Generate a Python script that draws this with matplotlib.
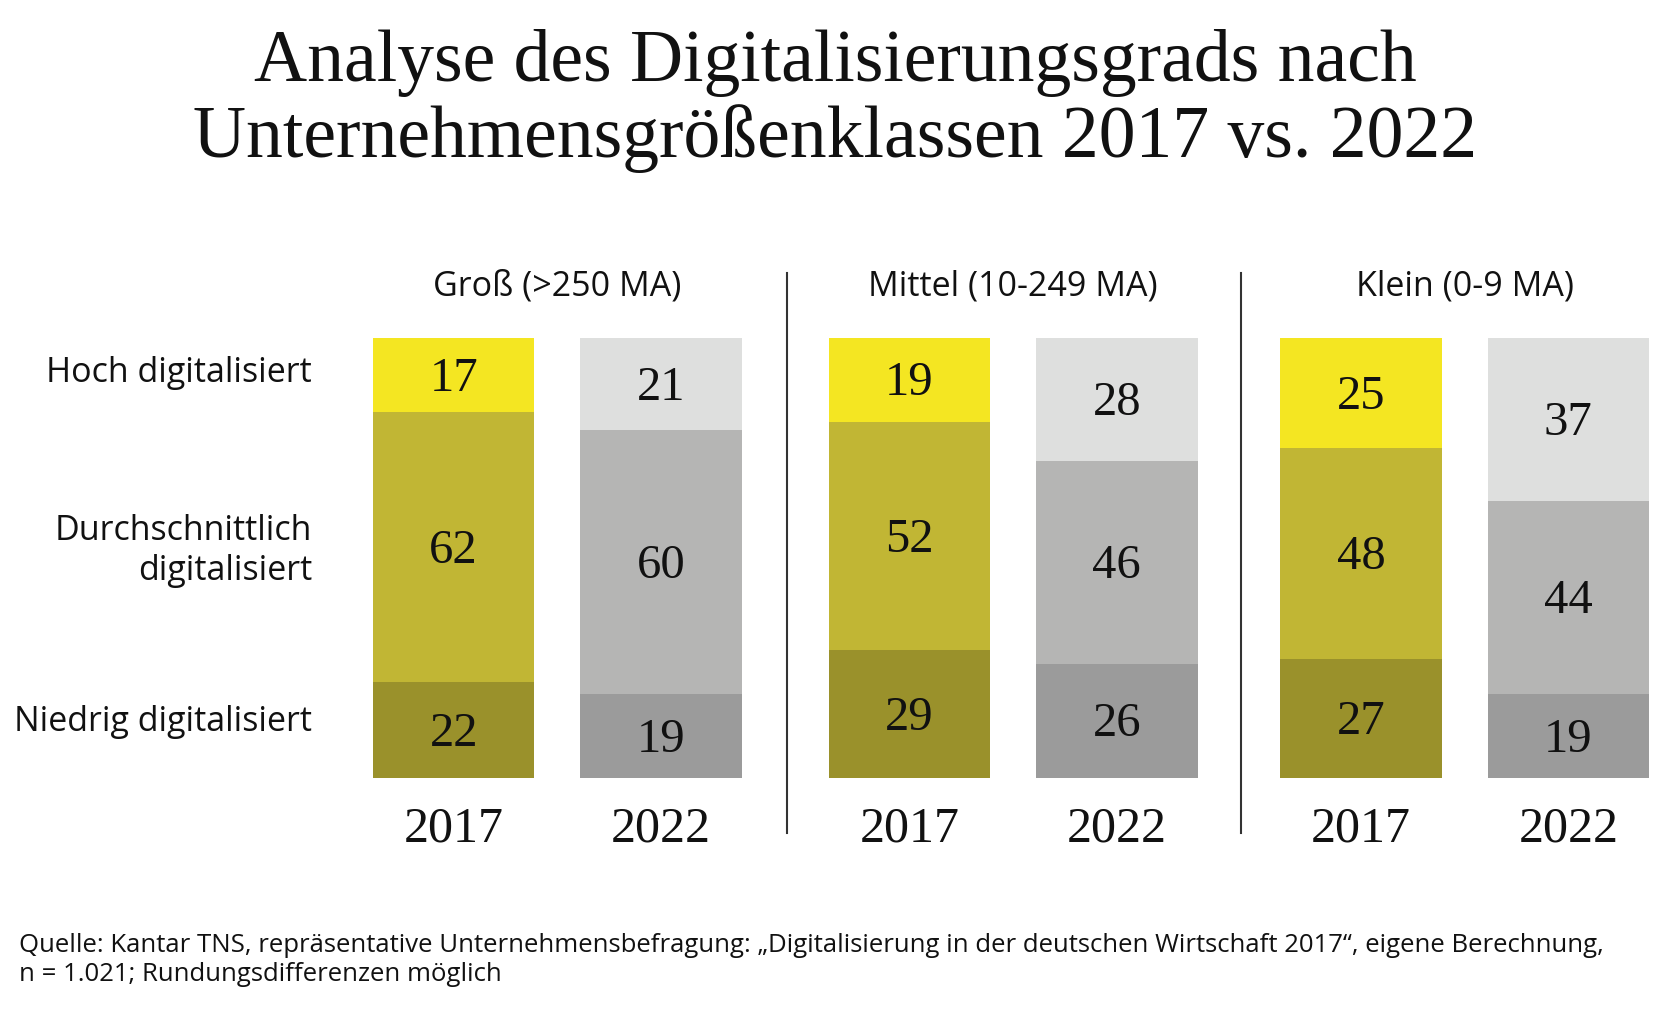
import matplotlib
matplotlib.use('Agg')
import matplotlib.pyplot as plt

# Data
groups = ['Groß (>250 MA)', 'Mittel (10-249 MA)', 'Klein (0-9 MA)']
years = ['2017', '2022']
levels = ['Niedrig digitalisiert', 'Durchschnittlich\ndigitalisiert', 'Hoch digitalisiert']

# values[group][year]
niedrig = [[22, 19], [29, 26], [27, 19]]
mittel = [[62, 60], [52, 46], [48, 44]]
hoch = [[17, 21], [19, 28], [25, 37]]

colors_2017 = ['#9a912b', '#c1b634', '#f4e622']
colors_2022 = ['#9b9b9b', '#b5b5b4', '#dedfde']

serif = 'Liberation Serif'
sans = 'Open Sans'

fig = plt.figure(figsize=(16.7, 10.11), dpi=100)
W, H = 1670, 1011
# bar area in pixels: x 373..1649, y 338..778
ax = fig.add_axes([373 / W, 1 - 778 / H, (1649 - 373) / W, (778 - 338) / H])

bar_w = 1.0
group_x = [0, 2.825, 5.623]
pair_step = 1.285

for g in range(len(groups)):
    for j in range(len(years)):
        x = group_x[g] + j * pair_step + bar_w / 2
        vals = [niedrig[g][j], mittel[g][j], hoch[g][j]]
        total = sum(vals)
        cols = colors_2017 if j == 0 else colors_2022
        bottom = 0
        for v, c in zip(vals, cols):
            h = v / total * 100  # bars are shown at full height
            ax.bar(x, h, bottom=bottom, width=bar_w, color=c, edgecolor='none')
            ax.text(x, bottom + h / 2 - 0.8, str(v), ha='center', va='center',
                    fontsize=35, family=serif, color='#111111')
            bottom += h
        ax.text(x, -11.6, years[j], ha='center', va='center',
                fontsize=36, family=serif, color='#111111')
    gx = group_x[g] + (pair_step + bar_w) / 2
    ax.text(gx, 111.6, groups[g], ha='center', va='center',
            fontsize=24.5, family=sans, color='#111111')

# separators between groups
for g in range(1, len(groups)):
    sx = (group_x[g - 1] + pair_step + bar_w + group_x[g]) / 2 + 0.01
    ax.plot([sx, sx], [-12.5, 114.8], color='#333333', lw=1.5, clip_on=False)

# row labels
for lbl, y in zip(levels, [12.7, 51.6, 92.0]):
    ax.text(-0.377, y, lbl, ha='right', va='center', fontsize=24.5,
            family=sans, color='#111111', linespacing=1.2)

ax.set_xlim(0, group_x[-1] + pair_step + bar_w)
ax.set_ylim(0, 100)
ax.axis('off')

fig.text(0.5, 1 - 101 / H, 'Analyse des Digitalisierungsgrads nach\nUnternehmensgrößenklassen 2017 vs. 2022',
         ha='center', va='center', fontsize=53, family=serif, color='#111111',
         linespacing=1.14)
fig.text(19 / W, 1 - 960 / H,
         'Quelle: Kantar TNS, repräsentative Unternehmensbefragung: „Digitalisierung in der deutschen Wirtschaft 2017“, eigene Berechnung,\n'
         'n = 1.021; Rundungsdifferenzen möglich',
         ha='left', va='center', fontsize=18.5, family=sans, color='#111111',
         linespacing=1.2)

fig.savefig('out.png', dpi=100, facecolor='white')
